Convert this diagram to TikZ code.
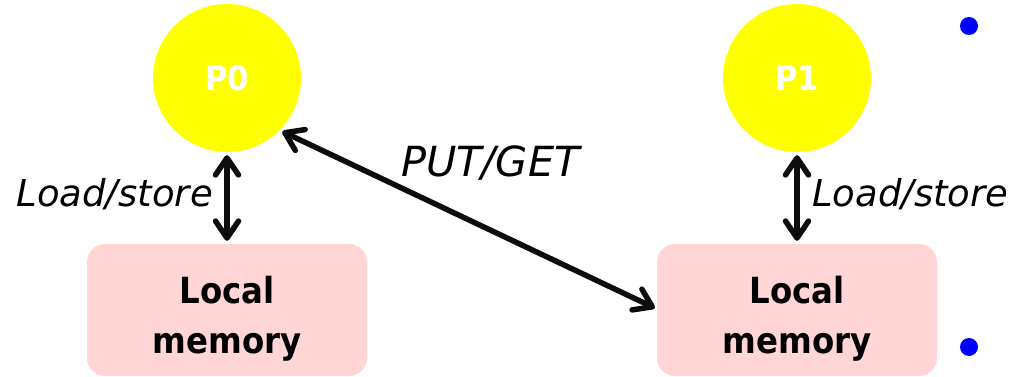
\documentclass[tikz,border=0pt]{standalone}
\usepackage{fontspec}
\setmainfont{DejaVu Sans}
\newfontfamily\cbf{DejaVu Sans Condensed Bold}
\usetikzlibrary{arrows.meta}
\definecolor{procyellow}{RGB}{255,255,0}
\definecolor{mempink}{RGB}{255,213,213}
\definecolor{dotblue}{RGB}{0,0,255}
\tikzset{barbtip/.tip={Straight Barb[length=17pt,width=23pt,line width=5.5pt,round]}}
\begin{document}
\begin{tikzpicture}[x=1pt,y=-1pt,
  proc/.style={circle,fill=procyellow,minimum size=148pt,inner sep=0pt,
    text=white,font=\cbf\fontsize{34}{40}\selectfont},
  mem/.style={rectangle,rounded corners=18pt,fill=mempink,minimum width=280pt,
    minimum height=132pt,inner sep=0pt,align=center,
    font=\cbf\fontsize{36}{50}\selectfont},
  link/.style={line width=5.5pt,draw=black!95,line cap=round,barbtip-barbtip},
  lbl/.style={inner sep=0pt,font=\itshape\fontsize{37}{44}\selectfont},
  biglbl/.style={inner sep=0pt,font=\itshape\fontsize{41.5}{48}\selectfont},
  dot/.style={circle,fill=dotblue,minimum size=18pt,inner sep=0pt}]
\clip (0,0) rectangle (1015,377);
\useasboundingbox (0,0) rectangle (1015,377);
\node[proc] (P0) at (227,78) {P0};
\node[proc] (P1) at (797,78) {P1};
\node[mem] (M0) at (227,310) {\rule{0pt}{44pt}Local\\memory};
\node[mem] (M1) at (797,310) {\rule{0pt}{44pt}Local\\memory};
\draw[link] ([yshift=-3pt]P0.south) -- ([yshift=3pt]M0.north);
\draw[link] ([yshift=-3pt]P1.south) -- ([yshift=3pt]M1.north);
\draw[link] ([shift={(2,2)}]P0.-44) -- ([shift={(-2,-2)}]M1.west);
\node[lbl,anchor=base east] (L0) at (213,207) {Load/store};
\node[lbl,anchor=base west] (L1) at (812,207) {Load/store};
\node[biglbl,anchor=base west] (PG) at (401,177) {PUT/GET};
\node[dot] (D1) at (969,26) {};
\node[dot] (D2) at (969,347) {};
\end{tikzpicture}
\end{document}
